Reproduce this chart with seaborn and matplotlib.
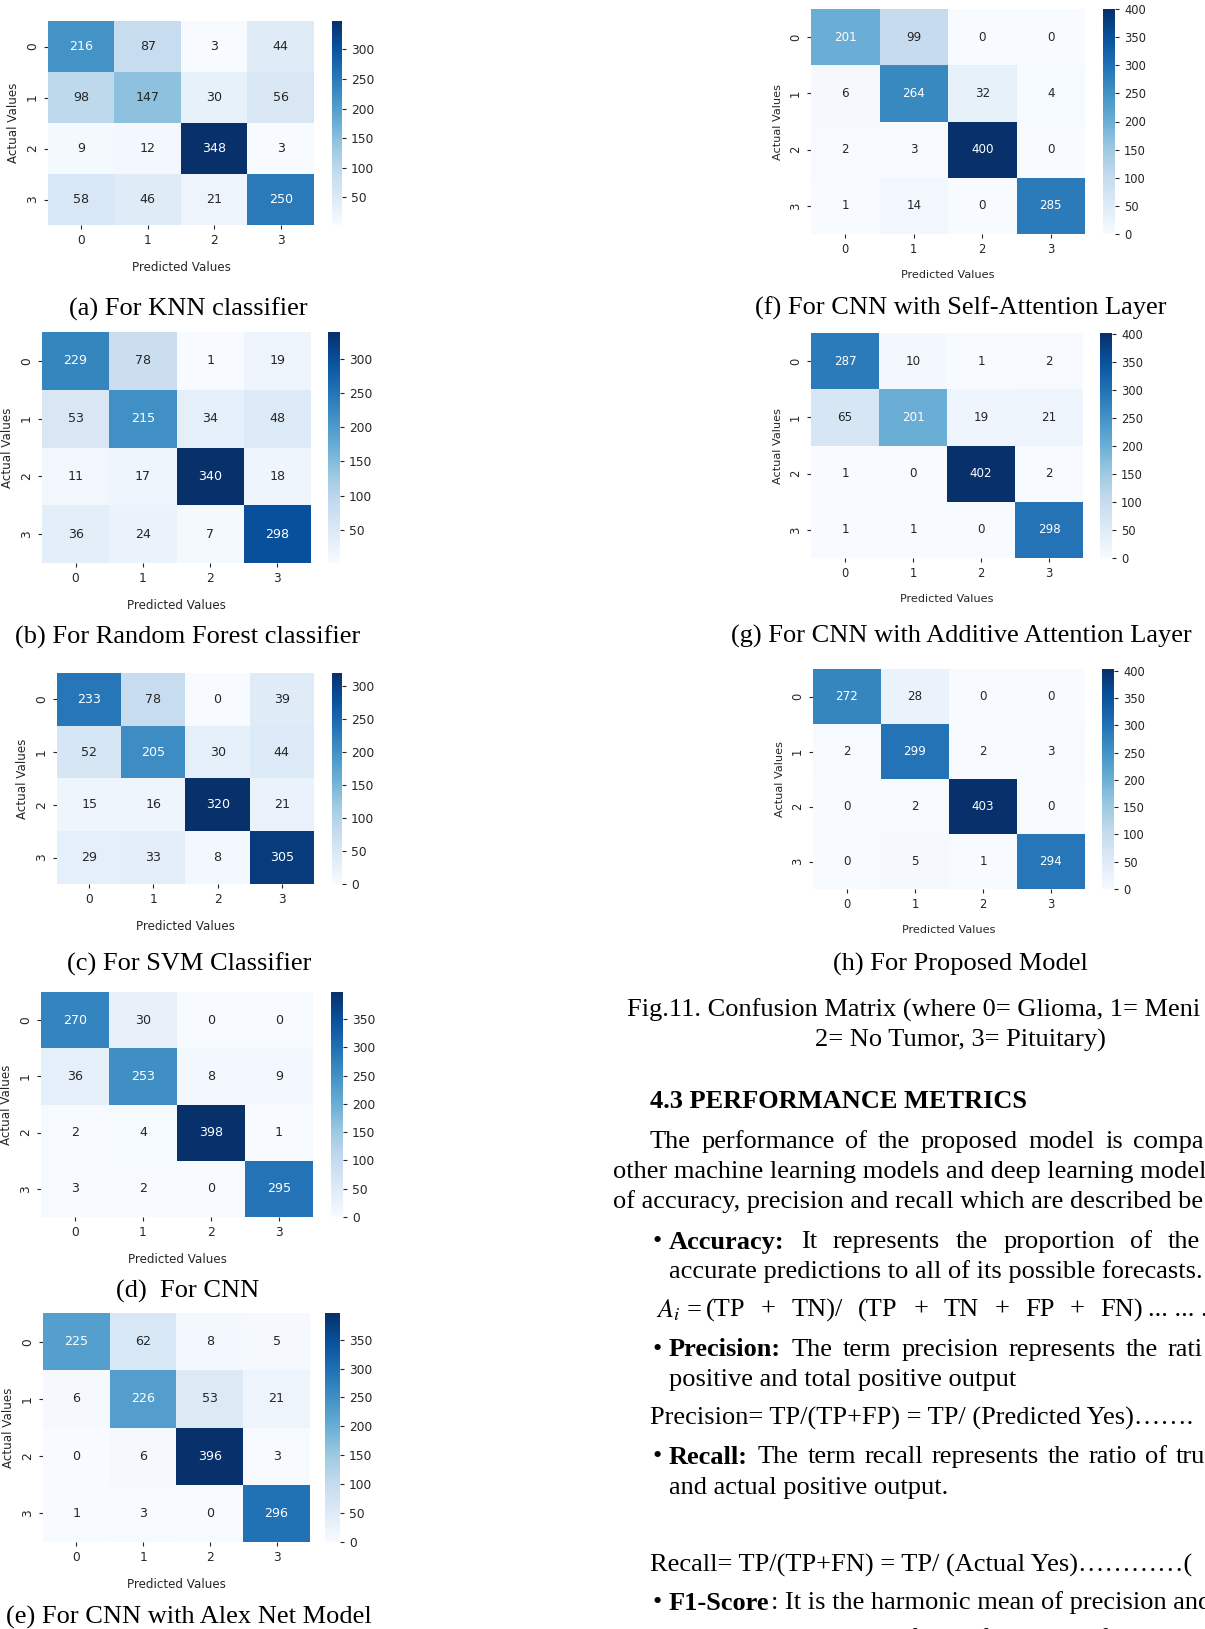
"""Confusion matrices page (Fig. 11) rebuilt with seaborn heatmaps."""
import matplotlib
matplotlib.use("Agg")
import matplotlib.pyplot as plt
import numpy as np
import seaborn as sns

sns.set_theme(style="ticks")
plt.rcParams["font.family"] = ["DejaVu Sans"]
plt.rcParams["mathtext.fontset"] = "stix"

W, H = 1205, 1629
SERIF = "Liberation Serif"

CLASSES = ["0", "1", "2", "3"]

KNN = [[216, 87, 3, 44], [98, 147, 30, 56], [9, 12, 348, 3], [58, 46, 21, 250]]
RANDOM_FOREST = [[229, 78, 1, 19], [53, 215, 34, 48], [11, 17, 340, 18], [36, 24, 7, 298]]
SVM = [[233, 78, 0, 39], [52, 205, 30, 44], [15, 16, 320, 21], [29, 33, 8, 305]]
CNN = [[270, 30, 0, 0], [36, 253, 8, 9], [2, 4, 398, 1], [3, 2, 0, 295]]
ALEXNET = [[225, 62, 8, 5], [6, 226, 53, 21], [0, 6, 396, 3], [1, 3, 0, 296]]
SELF_ATTENTION = [[201, 99, 0, 0], [6, 264, 32, 4], [2, 3, 400, 0], [1, 14, 0, 285]]
ADDITIVE_ATTENTION = [[287, 10, 1, 2], [65, 201, 19, 21], [1, 0, 402, 2], [1, 1, 0, 298]]
PROPOSED = [[272, 28, 0, 0], [2, 299, 2, 3], [0, 2, 403, 0], [0, 5, 1, 294]]

MATRICES = [KNN, RANDOM_FOREST, SVM, CNN, ALEXNET,
            SELF_ATTENTION, ADDITIVE_ATTENTION, PROPOSED]
CAPTIONS = [
    "(a) For KNN classifier",
    "(b) For Random Forest classifier",
    "(c) For SVM Classifier",
    "(d)  For CNN",
    "(e) For CNN with Alex Net Model",
    "(f) For CNN with Self-Attention Layer",
    "(g) For CNN with Additive Attention Layer",
    "(h) For Proposed Model",
]

# pixel layout: heatmap (left, top, right, bottom), colorbar (left, right), caption (x, y), font size
LAYOUT = [
    ((48, 21, 314, 225), (332, 342), (188, 309), 8.8),
    ((42, 332, 311, 563), (328, 340), (188, 637), 8.8),
    ((57, 673, 314, 884), (332, 342), (189, 964), 8.8),
    ((41, 992, 313, 1217), (331, 343), (188, 1291), 8.8),
    ((43, 1313, 310, 1542), (325, 340), (189, 1617), 8.8),
    ((811, 9, 1085, 234), (1103, 1115), (961, 308), 8.3),
    ((811, 333, 1083, 558), (1100, 1112), (961, 636), 8.3),
    ((813, 669, 1085, 889), (1102, 1114), (960, 964), 8.3),
]


def px_rect(l, t, r, b):
    return [l / W, 1 - b / H, (r - l) / W, (b - t) / H]


fig = plt.figure(figsize=(W / 100, H / 100), dpi=100, facecolor="white")

for mat, cap, (hm, cb, cpos, fs) in zip(MATRICES, CAPTIONS, LAYOUT):
    l, t, r, b = hm
    ax = fig.add_axes(px_rect(l, t, r, b))
    cax = fig.add_axes(px_rect(cb[0], t, cb[1], b))
    sns.heatmap(np.array(mat), annot=True, fmt="d", cmap="Blues", ax=ax, cbar_ax=cax,
                xticklabels=CLASSES, yticklabels=CLASSES, annot_kws={"size": fs + 0.3})
    ax.set_xlabel("Predicted Values", fontsize=fs - 0.2, labelpad=10)
    ax.set_ylabel("Actual Values", fontsize=fs - 0.2, labelpad=4)
    ax.tick_params(labelsize=fs, length=3, width=0.8)
    cax.tick_params(labelsize=fs, length=3, width=0.8)
    fig.text(cpos[0] / W, 1 - cpos[1] / H, cap, ha="center", va="center",
             family=SERIF, fontsize=19, color="black")


renderer = fig.canvas.get_renderer()


def put(x, y, text, gap=None, **kw):
    """Write one line of body text; with gap, spread the words like justified text."""
    kw.setdefault("family", SERIF)
    kw.setdefault("fontsize", 19)
    kw.setdefault("color", "black")
    if gap is None:
        return fig.text(x / W, 1 - y / H, text, va="center", **kw)
    for word in text.split():
        t = fig.text(x / W, 1 - y / H, word, va="center", **kw)
        x += t.get_window_extent(renderer=renderer).width + gap


# the column runs past the right edge of the page crop, so lines stop where the crop does
put(627, 1010, "Fig.11. Confusion Matrix (where 0= Glioma, 1= Meni")
put(960, 1040, "2= No Tumor, 3= Pituitary)", ha="center")
put(650, 1102, "4.3 PERFORMANCE METRICS", weight="bold")
put(650, 1142, "The performance of the proposed model is compa", gap=10.5)
put(613, 1172, "other machine learning models and deep learning model")
put(613, 1202, "of accuracy, precision and recall which are described be")

put(652, 1242, "\u2022")
put(669, 1242, "Accuracy:", weight="bold")
put(801, 1242, "It represents the proportion of the", gap=15.5)
put(669, 1272, "accurate predictions to all of its possible forecasts.")
put(656, 1310, r"$A_i$")
put(687, 1310, "=")
put(706, 1310, "(TP + TN)/ (TP + TN + FP + FN)", gap=15.5)
put(1148, 1310, "... ... .")

put(652, 1350, "\u2022")
put(669, 1350, "Precision:", weight="bold")
put(792, 1350, "The term precision represents the rati", gap=10)
put(669, 1380, "positive and total positive output")
put(650, 1418, "Precision= TP/(TP+FP) = TP/ (Predicted Yes)\u2026\u2026.")

put(652, 1457, "\u2022")
put(669, 1457, "Recall:", weight="bold")
put(758, 1457, "The term recall represents the ratio of tru", gap=8.5)
put(669, 1488, "and actual positive output.")
put(650, 1565, "Recall= TP/(TP+FN) = TP/ (Actual Yes)\u2026\u2026\u2026\u2026(")

put(652, 1603, "\u2022")
put(669, 1603, "F1-Score", weight="bold")
put(771, 1603, ": It is the harmonic mean of precision and")
put(669, 1640, "is an important metric for performance of a model")

fig.savefig("out.png", dpi=100, facecolor="white")
